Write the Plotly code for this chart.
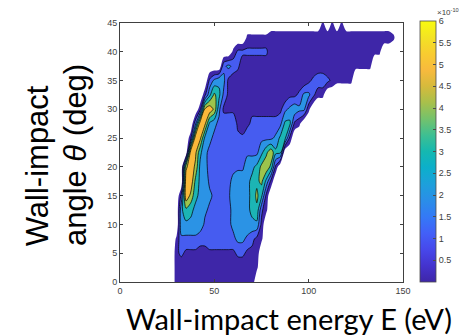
import plotly.graph_objects as go

# Grid of the chart (x: wall-impact energy in eV, y: wall-impact angle in deg)
energy_eV = [25, 27.5, 30, 32.5, 35, 37.5, 40, 42.5, 45, 47.5, 50, 52.5, 55, 57.5, 60,
             62.5, 65, 67.5, 70, 72.5, 75, 77.5, 80, 82.5, 85, 87.5, 90, 92.5, 95, 97.5,
             100, 102.5, 105, 107.5, 110, 112.5, 115, 117.5, 120, 122.5, 125, 127.5, 130,
             132.5, 135, 137.5, 140, 142.5, 145, 147.5, 150]
angle_deg = [0, 2.5, 5, 7.5, 10, 12.5, 15, 17.5, 20, 22.5, 25, 27.5, 30, 32.5, 35,
             37.5, 40, 42.5, 45]

# density (x1e-10), one character per grid cell ('.' = no data)
level_code = {'.': -1.0, '0': 0.25, '1': 0.75, '2': 1.25, '3': 1.75, '4': 2.25,
              '5': 2.75, '6': 3.25, '7': 3.75, '8': 4.25, '9': 4.75, 'a': 5.25, 'b': 5.75}
density_rows = [
    "..111" "11111" "11111" "1111." "....." "....." "....." "....." "....." "....." ".",  # 0
    "..101" "11111" "11111" "00110" "....." "....." "....." "....." "....." "....." ".",  # 2.5
    "..121" "11111" "11111" "22111" "....." "....." "....." "....." "....." "....." ".",  # 5
    "..033" "33223" "33333" "44321" "0...." "....." "....." "....." "....." "....." ".",  # 7.5
    "...55" "55533" "33334" "55555" "1...." "....." "....." "....." "....." "....." ".",  # 10
    "...57" "65543" "33334" "55567" "20..." "....." "....." "....." "....." "....." ".",  # 12.5
    "...2b" "96554" "33335" "55568" "61..." "....." "....." "....." "....." "....." ".",  # 15
    "....b" "b7553" "33334" "55567" "851.." "....." "....." "....." "....." "....." ".",  # 17.5
    "....9" "b9543" "33333" "33556" "8971." "....." "....." "....." "....." "....." ".",  # 20
    "....." "ba643" "33333" "33333" "57966" "....." "....." "....." "....." "....." ".",  # 22.5
    "....." "1ba54" "33333" "22333" "33346" "61..." "....." "....." "....." "....." ".",  # 25
    "....." ".3ba5" "43333" "10122" "22223" "6610." "....." "....." "....." "....." ".",  # 27.5
    "....." "..1ab" "94111" "00011" "11111" "34544" "0...." "....." "....." "....." ".",  # 30
    "....." "...15" "86310" "00000" "00000" "01124" "4200." "....." "....." "....." ".",  # 32.5
    "....." "....2" "45410" "00000" "00000" "00000" "12332" "10000" "....." "....." ".",  # 35
    "....." "....." "..343" "20000" "00000" "00000" "00000" "00000" "0000." "....." ".",  # 37.5
    "....." "....." "....0" "22222" "22000" "00000" "00000" "00000" "00000" "0...." ".",  # 40
    "....." "....." "....." "..000" "00111" "11111" "11111" "11111" "11111" "1110." ".",  # 42.5
    "....." "....." "....." "....." "....." "....." "...0." "0.0.." "....." "....." ".",  # 45
]
z = [[level_code[c] for c in row] for row in density_rows]

# colorbar ticks
cbar_ticks = [0.5, 1, 1.5, 2, 2.5, 3, 3.5, 4, 4.5, 5, 5.5, 6]
cbar_text = ["0.5", "1", "1.5", "2", "2.5", "3", "3.5", "4", "4.5", "5", "5.5", "6"]

# MATLAB parula approximation
parula = [
    [0.0, "#3E26A8"], [0.0625, "#4433CE"], [0.125, "#4748EB"], [0.1875, "#4260F8"],
    [0.25, "#3479F6"], [0.3125, "#2A8EE8"], [0.375, "#1DA0DB"], [0.4375, "#0CAFCB"],
    [0.5, "#15B8B0"], [0.5625, "#3EBF92"], [0.625, "#74C26C"], [0.6875, "#A8C04B"],
    [0.75, "#D6BA3C"], [0.8125, "#F8BA3D"], [0.875, "#F8CC30"], [0.9375, "#F3E324"],
    [1.0, "#F9FB0E"],
]
# fill colours: below 0 (no data) white, then bands 0-1, 1-2, ..., >5
band_colors = ["#FFFFFF", "#3E26A8", "#465CF0", "#2B93E5", "#1CB5B4", "#9CC44C", "#FAB93A"]
fill_scale = []
nb = len(band_colors) - 1
for j, c in enumerate(band_colors):
    lo = max(0.0, (j - 0.5) / nb)
    hi = min(1.0, (j + 0.5) / nb)
    fill_scale += [[lo, c], [hi, c]]

fig = go.Figure()
fig.add_trace(go.Contour(
    x=energy_eV, y=angle_deg, z=z, autocontour=False,
    contours=dict(start=0, end=5, size=1, coloring="fill", showlines=False),
    colorscale=fill_scale, showscale=False, line=dict(width=0, smoothing=0.8),
    hoverinfo="skip",
))
fig.add_trace(go.Contour(
    x=energy_eV, y=angle_deg, z=z, autocontour=False,
    contours=dict(start=1, end=5, size=1, coloring="none"),
    line=dict(color="black", width=0.7, smoothing=0.8),
    showscale=False, hoverinfo="skip",
))
fig.add_trace(go.Scatter(
    x=[None], y=[None], mode="markers", showlegend=False, hoverinfo="skip",
    marker=dict(color=[0], cmin=0, cmax=6, colorscale=parula, showscale=True,
                colorbar=dict(x=1.059, xanchor="left", xpad=0, y=0, yanchor="bottom", ypad=0,
                              lenmode="pixels", len=261, thickness=16, thicknessmode="pixels",
                              outlinewidth=0.8, outlinecolor="#4d4d4d",
                              tickvals=cbar_ticks, ticktext=cbar_text, ticks="inside",
                              ticklen=3, tickcolor="#4d4d4d",
                              tickfont=dict(size=9, color="#404040", family="Liberation Sans"))),
))

tickfont = dict(size=9, color="#404040", family="Liberation Sans")
fig.update_layout(
    width=467, height=336, margin=dict(l=120, r=59, t=23, b=54),
    paper_bgcolor="white", plot_bgcolor="white", showlegend=False,
    xaxis=dict(range=[0, 150], tickvals=[0, 50, 100, 150], ticks="inside", ticklen=3,
               tickcolor="#404040", showline=True, linecolor="#404040", linewidth=1,
               mirror="ticks", showgrid=False, zeroline=False, tickfont=tickfont),
    yaxis=dict(range=[0, 45], dtick=5, ticks="inside", ticklen=3,
               tickcolor="#404040", showline=True, linecolor="#404040", linewidth=1,
               mirror="ticks", showgrid=False, zeroline=False, tickfont=tickfont),
    annotations=[
        dict(text="Wall-impact", x=-0.2917, y=0.13, xref="paper", yref="paper",
             textangle=-90, xanchor="center", yanchor="bottom", showarrow=False,
             font=dict(size=31, color="black", family="Liberation Sans")),
        dict(text="angle <i>θ</i> (deg)", x=-0.1563, y=0.13, xref="paper", yref="paper",
             textangle=-90, xanchor="center", yanchor="bottom", showarrow=False,
             font=dict(size=31, color="black", family="Liberation Sans")),
        dict(text="Wall-impact energy E (eV)", x=0.598, y=-0.14, xref="paper", yref="paper",
             xanchor="center", yanchor="middle", showarrow=False,
             font=dict(size=29, color="black", family="Lato")),
        dict(text="×10<sup>-10</sup>", x=1.1146, y=1.0425, xref="paper", yref="paper",
             xanchor="left", yanchor="middle", showarrow=False,
             font=dict(size=8, color="#404040", family="Liberation Sans")),
    ],
)
fig.write_html("out.html")
